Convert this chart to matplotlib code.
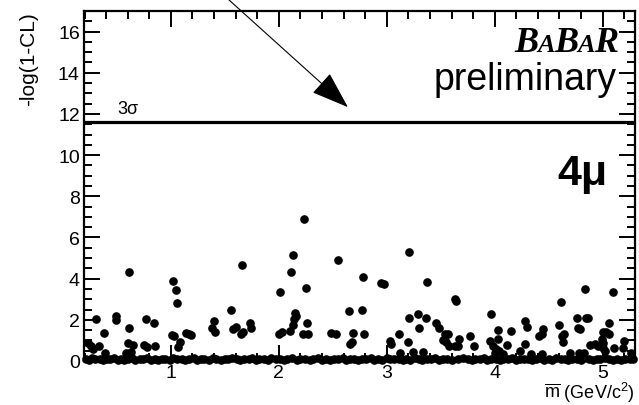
import numpy as np
import matplotlib
matplotlib.use("Agg")
import matplotlib.pyplot as plt
from matplotlib.ticker import MultipleLocator

plt.rcParams['font.family'] = ['Liberation Sans', 'DejaVu Sans']
plt.rcParams['mathtext.fontset'] = 'custom'
plt.rcParams['mathtext.rm'] = 'Liberation Sans'
plt.rcParams['mathtext.it'] = 'Liberation Sans:italic'

# scan points above the baseline band (m, -log(1-CL))
x_scan = [0.23, 0.26, 0.28, 0.31, 0.33, 0.38, 0.39,
          0.49, 0.49, 0.58, 0.60, 0.61, 0.61, 0.63, 0.65,
          0.77, 0.75, 0.78, 0.84, 0.85,
          1.02, 1.05, 1.06, 1.01, 1.03, 1.08, 1.07, 1.14, 1.17, 1.19,
          1.40, 1.38, 1.41,
          1.56, 1.58, 1.60, 1.66, 1.65, 1.67, 1.73, 1.74,
          2.01, 2.00, 2.03, 2.10, 2.13, 2.11, 2.14, 2.15, 2.16, 2.13,
          2.23, 2.25, 2.26, 2.22, 2.27,
          2.55, 2.48, 2.53, 2.65, 2.69, 2.66, 2.68,
          2.78, 2.77, 2.79,
          2.95, 2.97, 3.03, 3.04, 3.11, 3.12, 3.20, 3.21, 3.21, 3.24,
          3.29, 3.30, 3.34, 3.36, 3.37,
          3.46, 3.48, 3.52, 3.54, 3.57, 3.55, 3.58, 3.63, 3.66, 3.63,
          3.64, 3.67, 3.77, 3.81,
          3.97, 3.96, 4.03, 4.03, 3.98, 4.01, 4.00, 4.04, 4.08, 4.11,
          4.15, 4.23, 4.28, 4.30, 4.28,
          4.41, 4.44, 4.45, 4.34, 4.44,
          4.61, 4.60, 4.62, 4.64, 4.63, 4.70,
          4.76, 4.77, 4.79, 4.84, 4.85, 4.86, 4.78, 4.83,
          4.88, 4.93, 4.96, 4.99, 5.00, 5.00, 5.02, 5.00, 5.03, 5.06,
          5.06, 5.10, 5.11, 5.20, 5.19, 5.26]
y_scan = [0.89, 0.72, 0.60, 2.06, 0.72, 1.37, 0.37,
          2.19, 1.99, 0.37, 0.89, 4.30, 1.62, 0.45, 0.76,
          2.06, 0.76, 0.69, 1.83, 0.71,
          3.91, 3.44, 2.84, 1.26, 1.21, 0.94, 0.67, 1.37, 1.29, 1.26,
          1.94, 1.59, 1.42,
          2.46, 1.54, 1.67, 4.67, 1.31, 1.40, 1.83, 1.62,
          3.34, 1.29, 1.42, 1.46, 5.15, 4.30, 2.06, 2.32, 2.19, 1.75,
          6.90, 3.55, 1.86, 1.29, 1.29,
          4.92, 1.37, 1.29, 2.43, 1.37, 0.85, 0.92,
          4.09, 2.46, 1.31,
          3.78, 3.73, 0.97, 0.84, 1.31, 0.37, 0.94, 5.28, 2.07, 0.45,
          2.30, 1.62, 0.45, 2.07, 3.84,
          1.86, 1.62, 1.00, 1.29, 1.33, 0.92, 0.72, 0.72, 0.72, 3.00,
          2.92, 1.05, 1.21, 0.72,
          2.30, 0.97, 1.50, 1.05, 0.72, 0.56, 0.40, 0.48, 0.32, 0.80,
          1.46, 0.48, 1.94, 1.65, 0.84,
          1.21, 1.29, 1.54, 0.35, 0.35,
          2.87, 1.73, 1.21, 1.33, 0.92, 0.40,
          2.11, 1.62, 1.57, 3.49, 2.11, 2.11, 0.40, 0.38,
          0.77, 0.85, 0.72, 1.05, 0.89, 0.64, 0.48, 1.42, 1.42, 1.29,
          1.86, 3.33, 0.64, 0.97, 0.64, 0.40]

# dense band of points sitting near zero
x_band = [0.21, 0.24, 0.27, 0.30, 0.34, 0.37, 0.41, 0.44, 0.47, 0.51,
          0.54, 0.57, 0.60, 0.64, 0.67, 0.71, 0.74, 0.78, 0.82, 0.85,
          0.88, 0.92, 0.95, 0.99, 1.02, 1.06, 1.10, 1.13, 1.17, 1.21,
          1.24, 1.28, 1.31, 1.35, 1.39, 1.42, 1.46, 1.50, 1.53, 1.57,
          1.61, 1.64, 1.68, 1.72, 1.75, 1.79, 1.82, 1.86, 1.90, 1.93,
          1.97, 2.01, 2.05, 2.08, 2.12, 2.17, 2.20, 2.24, 2.29, 2.32,
          2.36, 2.40, 2.44, 2.47, 2.51, 2.55, 2.59, 2.62, 2.66, 2.70,
          2.73, 2.77, 2.81, 2.85, 2.88, 2.92, 2.96, 3.00, 3.03, 3.07,
          3.11, 3.15, 3.18, 3.22, 3.26, 3.30, 3.33, 3.37, 3.41, 3.45,
          3.48, 3.52, 3.56, 3.60, 3.66, 3.71, 3.75, 3.79, 3.82, 3.86,
          3.90, 3.93, 3.97, 4.01, 4.05, 4.08, 4.12, 4.16, 4.20, 4.23,
          4.27, 4.31, 4.35, 4.38, 4.42, 4.46, 4.50, 4.53, 4.57, 4.61,
          4.65, 4.68, 4.72, 4.76, 4.80, 4.83, 4.87, 4.91, 4.95, 4.98,
          5.02, 5.06, 5.10, 5.13, 5.17, 5.21, 5.25, 5.28]
y_band = [0.10, 0.06, 0.13, 0.08, 0.11, 0.04, 0.12, 0.09, 0.15, 0.07,
          0.12, 0.05, 0.09, 0.14, 0.06, 0.10, 0.08, 0.13, 0.05, 0.11,
          0.07, 0.12, 0.09, 0.04, 0.14, 0.08, 0.11, 0.06, 0.10, 0.13,
          0.05, 0.09, 0.12, 0.07, 0.15, 0.08, 0.06, 0.11, 0.09, 0.13,
          0.10, 0.04, 0.12, 0.08, 0.14, 0.06, 0.11, 0.09, 0.05, 0.13,
          0.08, 0.12, 0.06, 0.10, 0.14, 0.07, 0.09, 0.12, 0.05, 0.11,
          0.13, 0.07, 0.10, 0.05, 0.12, 0.09, 0.15, 0.06, 0.11, 0.08,
          0.04, 0.12, 0.09, 0.13, 0.07, 0.10, 0.06, 0.14, 0.08, 0.11,
          0.09, 0.05, 0.12, 0.07, 0.13, 0.10, 0.06, 0.11, 0.08, 0.14,
          0.07, 0.12, 0.09, 0.05, 0.11, 0.13, 0.08, 0.06, 0.12, 0.10,
          0.14, 0.07, 0.09, 0.12, 0.05, 0.11, 0.08, 0.13, 0.06, 0.10,
          0.09, 0.12, 0.04, 0.11, 0.14, 0.07, 0.10, 0.06, 0.13, 0.08,
          0.11, 0.05, 0.12, 0.09, 0.07, 0.14, 0.10, 0.06, 0.12, 0.08,
          0.13, 0.09, 0.05, 0.11, 0.07, 0.12, 0.10, 0.08]

sigma3 = 11.6
y_ticks = [0, 2, 4, 6, 8, 10, 12, 14, 16]
x_ticks = [1, 2, 3, 4, 5]

W, H = 639, 406
fig = plt.figure(figsize=(W / 100, H / 100), dpi=100)
ax = fig.add_axes([84 / W, 1 - 362 / H, (635 - 84) / W, (362 - 12) / H])

ax.plot(x_band, y_band, 'o', color='black', ms=5.2, clip_on=False, zorder=3)
ax.plot(x_scan, y_scan, 'o', color='black', ms=5.2, clip_on=False, zorder=3)
ax.axhline(sigma3, color='black', lw=2.3)

ax.set_xlim(0.195, 5.3)
ax.set_ylim(0, 17)
ax.set_xticks(x_ticks)
ax.set_yticks(y_ticks)
ax.xaxis.set_minor_locator(MultipleLocator(0.2))
ax.yaxis.set_minor_locator(MultipleLocator(0.5))
ax.tick_params(which='both', direction='in', top=True, right=True, width=1.4,
               labelsize=14, color='black')
ax.tick_params(which='major', length=11.5)
ax.tick_params(which='minor', length=5.5)
ax.tick_params(axis='y', pad=3)
ax.tick_params(axis='x', pad=2)
for s in ax.spines.values():
    s.set_linewidth(1.6)

ax.text(0.5, 12.05, '3σ', fontsize=13)

# arrow coming in from above the frame
ax.annotate('', xy=(2.64, 12.33), xytext=(1.525, 17.6), annotation_clip=False,
            arrowprops=dict(arrowstyle='-|>,head_length=1.2,head_width=0.42',
                            mutation_scale=20, lw=0.8, color='black',
                            shrinkA=0, shrinkB=0))

# axis titles
fig.text(635 / W, 1 - 405 / H, r'$\overline{\mathrm{m}}$ (GeV/c$^{2}$)',
         ha='right', va='bottom', fontsize=13)
fig.text(29 / W, 1 - 12 / H, '-log(1-CL)', rotation=90, ha='center', va='top',
         fontsize=15)

# BaBar logo with small caps A
fig.canvas.draw()
renderer = fig.canvas.get_renderer()
xpos = 618
for s, sz in reversed([('B', 26), ('A', 19), ('B', 26), ('A', 19), ('R', 26)]):
    t = fig.text(xpos / W, 1 - 52 / H, s, ha='right', va='baseline', fontsize=sz,
                 family='Liberation Serif', weight='bold', style='italic')
    xpos -= t.get_window_extent(renderer).width - 1

fig.text(617 / W, 1 - 90 / H, 'preliminary', ha='right', va='baseline', fontsize=27)
fig.text(607 / W, 1 - 185 / H, '4μ', ha='right', va='baseline', fontsize=31,
         weight='bold')

fig.savefig('out.png', dpi=100)
